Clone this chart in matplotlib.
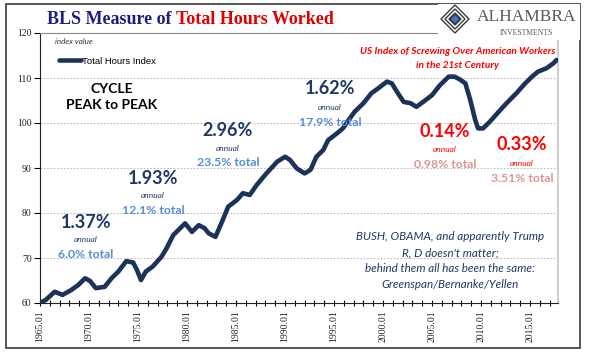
import matplotlib
matplotlib.use("Agg")
import matplotlib.pyplot as plt
from matplotlib.patches import Rectangle, Polygon

# values (year, index value)
years = [1965.0, 1965.6, 1966.5, 1967.3, 1968.2, 1968.9, 1969.6, 1970.1, 1970.7,
         1971.6, 1972.3, 1973.0, 1973.8, 1974.5, 1974.9, 1975.3, 1975.8, 1976.5,
         1977.4, 1977.9, 1978.6, 1979.8, 1980.5, 1981.2, 1981.8, 1982.2, 1982.9,
         1983.5, 1984.2, 1985.1, 1985.7, 1986.4, 1987.1, 1988.1, 1989.2, 1990.0,
         1990.5, 1991.2, 1992.0, 1992.6, 1993.2, 1993.9, 1994.4, 1995.3, 1995.9,
         1996.6, 1997.1, 1998.0, 1998.8, 1999.5, 2000.4, 2000.9, 2001.4, 2002.1,
         2002.8, 2003.4, 2004.1, 2005.0, 2005.8, 2006.7, 2007.3, 2007.9, 2008.4,
         2008.9, 2009.4, 2009.7, 2010.2, 2010.9, 2011.8, 2012.6, 2013.6, 2014.5,
         2015.2, 2015.8, 2016.7, 2017.4, 2017.7]
hours_index = [60.0, 60.7, 62.5, 61.8, 62.9, 64.0, 65.5, 64.9, 63.3,
               63.6, 65.5, 67.0, 69.3, 69.0, 67.3, 65.1, 67.0, 68.1,
               70.3, 72.1, 75.1, 77.7, 75.8, 77.3, 76.6, 75.5, 74.7,
               77.7, 81.4, 82.9, 84.4, 84.0, 86.2, 88.8, 91.4, 92.5,
               91.8, 89.9, 88.8, 89.6, 92.5, 94.0, 96.2, 97.7, 98.8,
               101.0, 102.5, 104.4, 106.6, 107.7, 109.2, 108.8, 107.0, 104.7,
               104.4, 103.6, 104.7, 106.2, 108.4, 110.3, 110.3, 109.6, 108.8,
               105.1, 100.7, 98.8, 98.8, 100.3, 102.5, 104.4, 106.6, 108.8,
               110.3, 111.4, 112.2, 113.3, 114.0]

y_ticks = [60, 70, 80, 90, 100, 110, 120]
x_ticks = [1965, 1970, 1975, 1980, 1985, 1990, 1995, 2000, 2005, 2010, 2015]
x_labels = [f"{y}.01" for y in x_ticks]

# cycle annotations: (headline, total, x_px, y_px, headline colour, total colour)
cycles = [
    ("1.37%", "6.0% total", 86, 222, "#1F3864", "#558ED5"),
    ("1.93%", "12.1% total", 153, 178, "#1F3864", "#558ED5"),
    ("2.96%", "23.5% total", 228, 130, "#1F3864", "#558ED5"),
    ("1.62%", "17.9% total", 330, 89, "#1F3864", "#558ED5"),
    ("0.14%", "0.98% total", 445, 132, "#FF0000", "#D99694"),
    ("0.33%", "3.51% total", 522, 145, "#FF0000", "#D99694"),
]

W, H = 600, 362
NAVY = "#1F3864"
SANS = "Lato"
SERIF = "Liberation Serif"


def px(x, y):
    return x / W, 1 - y / H


fig = plt.figure(figsize=(6, 3.62), dpi=100)
fig.patch.set_facecolor("white")

# outer frame
fig.patches.append(Rectangle(px(6, 348), 574 / W, 344 / H, transform=fig.transFigure,
                             fill=False, edgecolor="#3a3a3a", linewidth=1.2, zorder=0))

l, b = px(40, 303)
r, t = px(558, 33)
ax = fig.add_axes([l, b, r - l, t - b])
ax.plot(years, hours_index, color="#1B3358", linewidth=3.3, solid_capstyle="round",
        solid_joinstyle="round", label="Total Hours Index", zorder=3)

ax.set_xlim(1965, 2017.85)
ax.set_ylim(60, 120)
ax.set_yticks(y_ticks)
ax.set_xticks(x_ticks)
ax.set_xticklabels(x_labels, rotation=90, fontsize=7, family=SERIF, color="#222222")
ax.set_xticks(range(1966, 2018), minor=True)
ax.tick_params(axis="x", which="both", direction="inout", length=5, width=0.8, pad=3)
ax.tick_params(axis="y", direction="out", length=4, width=0.8, labelsize=7, pad=2)
for lab in ax.get_yticklabels():
    lab.set_family(SERIF)
    lab.set_color("#222222")

for v in y_ticks[1:-1]:
    ax.axhline(v, color="#b0b0b0", linewidth=0.6, linestyle=(0, (2, 2)), zorder=1)

ax.spines["left"].set_color("#222222")
ax.spines["bottom"].set_color("#222222")
ax.spines["top"].set_color("#888888")
ax.spines["right"].set_color("#c8c8c8")
ax.spines["right"].set_linewidth(1.2)

leg = ax.legend(loc="upper left", bbox_to_anchor=px(55, 53), bbox_transform=fig.transFigure,
                frameon=False, handlelength=2.3, handletextpad=0.15, borderaxespad=0,
                prop={"family": "Liberation Sans", "size": 6.8})

fig.text(*px(55, 42), "index value", fontsize=5.8, style="italic", color="#333333",
         family=SANS, ha="left", va="center")

# title
t1 = fig.text(*px(47, 19), "BLS Measure of ", fontsize=13, color="#1F1F7A",
              family=SERIF, fontweight="bold", ha="left", va="center")
fig.canvas.draw()
bb = t1.get_window_extent()
fig.text(bb.x1 / W, 1 - 19 / H, "Total Hours Worked", fontsize=13, color="#E00000",
         family=SERIF, fontweight="bold", ha="left", va="center")

# logo
fig.patches.append(Rectangle(px(438, 40), 142 / W, 36 / H, transform=fig.transFigure,
                             facecolor="white", edgecolor="none", zorder=5))
cx, cy = 455, 19
for s, fc, ec in [(14, "white", "#3a3a3a"), (10, "white", "#3a3a3a"),
                  (6, "#3a3a3a", "#3a3a3a"), (3.2, "#4472C4", "#4472C4")]:
    pts = [px(cx, cy - s), px(cx + s, cy), px(cx, cy + s), px(cx - s, cy)]
    fig.patches.append(Polygon(pts, closed=True, transform=fig.transFigure,
                               facecolor=fc, edgecolor=ec, linewidth=1.0, zorder=6))
fig.text(*px(527, 17), "ALHAMBRA", fontsize=12.5, color="#595959", family=SERIF,
         ha="center", va="center", zorder=7)
fig.text(*px(526, 33), "INVESTMENTS", fontsize=5.5, color="#595959", family=SERIF,
         ha="center", va="center", zorder=7)

# annotations
fig.text(*px(112, 89), "CYCLE", fontsize=10, fontweight="bold", color="black",
         family=SANS, ha="center", va="center")
fig.text(*px(112, 105), "PEAK to PEAK", fontsize=10, fontweight="bold", color="black",
         family=SANS, ha="center", va="center")

for head, total, x, y, c1, c2 in cycles:
    fig.text(*px(x, y), head, fontsize=13, fontweight="bold", color=c1, family=SANS,
             ha="center", va="center")
    fig.text(*px(x, y + 18), "annual", fontsize=6, style="italic", color=c1,
             family=SANS, ha="center", va="center")
    fig.text(*px(x, y + 33), total, fontsize=8.8, fontweight="bold", color=c2,
             family=SANS, ha="center", va="center")

fig.text(*px(458, 52), "US Index of Screwing Over American Workers", fontsize=7.3,
         style="italic", fontweight="bold", color="#FF0000", family=SANS,
         ha="center", va="center")
fig.text(*px(458, 66), "in the 21st Century", fontsize=7.3, style="italic",
         fontweight="bold", color="#FF0000", family=SANS, ha="center", va="center")

note = ["BUSH, OBAMA, and apparently Trump", "R, D doesn't matter;",
        "behind them all has been the same:", "Greenspan/Bernanke/Yellen"]
for i, line in enumerate(note):
    fig.text(*px(450, 237 + 15.7 * i), line, fontsize=8.4, style="italic", color=NAVY,
             family=SANS, ha="center", va="center")

fig.savefig("out.png", dpi=100)
